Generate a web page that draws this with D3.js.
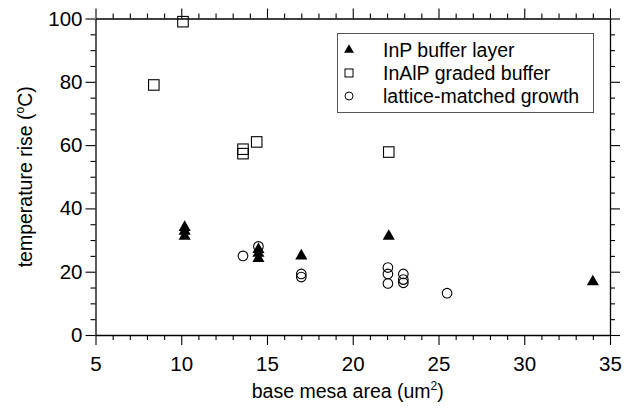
<!DOCTYPE html>
<html><head><meta charset="utf-8">
<script src="https://cdn.jsdelivr.net/npm/d3@7"></script>
<style>body{margin:0;background:#fff}svg{display:block}text{font-family:"Liberation Sans",Arial,Helvetica,sans-serif;fill:#000}</style>
</head><body><svg id="c" width="626" height="410"></svg>
<script>
const inpX = [10.2, 10.2, 10.2, 14.5, 14.5, 14.5, 17.0, 22.1, 34.0];
const inpY = [34, 32.8, 31.2, 27, 25.8, 24.2, 25, 31.2, 16.8];
const inalpX = [8.4, 10.1, 13.6, 13.6, 14.4, 22.1];
const inalpY = [79, 99, 58.7, 57.3, 61, 57.8];
const latX = [13.6, 14.5, 17.0, 17.0, 22.05, 22.05, 22.05, 22.95, 22.95, 22.95, 25.5];
const latY = [25, 28, 19.3, 18.3, 21.3, 19.3, 16.3, 19.3, 17.5, 16.5, 13.2];
const xTicks = [5, 10, 15, 20, 25, 30, 35];
const yTicks = [0, 20, 40, 60, 80, 100];
const legendLabels = ["InP buffer layer", "InAlP graded buffer", "lattice-matched growth"];

const svg = d3.select("#c");
const L = 95.5, R = 610, T = 18.5, B = 335;
const x = d3.scaleLinear().domain([5, 35]).range([L, R]);
const y = d3.scaleLinear().domain([0, 100]).range([B, T]);
const xMinor = d3.range(5, 36, 1).filter(v => v % 5 !== 0);
const yMinor = d3.range(0, 101, 5).filter(v => v % 20 !== 0);
const fs = 19.5;

function axis(gen, scale, ticks, minor, transform, labels, pad) {
  const g1 = svg.append("g").attr("transform", transform)
    .call(gen(scale).tickValues(ticks).tickSize(10).tickSizeOuter(0).tickPadding(pad)
      .tickFormat(labels ? d3.format("d") : ""));
  const g2 = svg.append("g").attr("transform", transform)
    .call(gen(scale).tickValues(minor).tickSize(5).tickSizeOuter(0).tickFormat(""));
  g2.select(".domain").remove();
  [g1, g2].forEach(g => {
    g.selectAll("line").attr("stroke", "#000").attr("stroke-width", 1.1);
    g.select(".domain").attr("stroke", "#000").attr("stroke-width", 1.3);
    g.selectAll("text").attr("font-size", 20.5).attr("font-family", '"Liberation Sans",Arial,sans-serif').attr("fill", "#000");
  });
}
axis(d3.axisBottom, x, xTicks, xMinor, `translate(0,${B})`, true, 11);
axis(d3.axisTop, x, xTicks, xMinor, `translate(0,${T})`, false, 3);
axis(d3.axisLeft, y, yTicks, yMinor, `translate(${L},0)`, true, 3);
axis(d3.axisRight, y, yTicks, yMinor, `translate(${R},0)`, false, 3);

// axis titles
const xt = svg.append("text").attr("x", (L + R) / 2 - 5).attr("y", 398).attr("text-anchor", "middle").attr("font-size", fs);
xt.append("tspan").text("base mesa area (um");
xt.append("tspan").attr("font-size", 12).attr("dy", -8).text("2");
xt.append("tspan").attr("dy", 8).text(")");

const yt = svg.append("text").attr("transform", `translate(32,${(T + B) / 2}) rotate(-90)`).attr("text-anchor", "middle").attr("font-size", fs);
yt.append("tspan").text("temperature rise (");
yt.append("tspan").attr("font-size", 12).attr("dy", -8).text("o");
yt.append("tspan").attr("dy", 8).text("C)");

// marks
const tri = d3.symbol().type(d3.symbolTriangle).size(64);
svg.append("g").selectAll("path").data(inpX.map((v, i) => [v, inpY[i]])).join("path")
  .attr("d", tri).attr("transform", d => `translate(${x(d[0])},${y(d[1])})`).attr("fill", "#000");
const sq = 10.5;
svg.append("g").selectAll("rect").data(inalpX.map((v, i) => [v, inalpY[i]])).join("rect")
  .attr("x", d => x(d[0]) - sq / 2).attr("y", d => y(d[1]) - sq / 2).attr("width", sq).attr("height", sq)
  .attr("fill", "none").attr("stroke", "#000").attr("stroke-width", 1.1);
svg.append("g").selectAll("circle").data(latX.map((v, i) => [v, latY[i]])).join("circle")
  .attr("cx", d => x(d[0])).attr("cy", d => y(d[1])).attr("r", 4.8)
  .attr("fill", "none").attr("stroke", "#000").attr("stroke-width", 1.1);

// legend
const lg = svg.append("g");
lg.append("rect").attr("x", 337.5).attr("y", 33.5).attr("width", 256).attr("height", 79)
  .attr("fill", "#fff").attr("stroke", "#555").attr("stroke-width", 1);
const rows = [50, 73, 96];
lg.append("path").attr("d", d3.symbol().type(d3.symbolTriangle).size(42)).attr("transform", `translate(349,${rows[0]})`).attr("fill", "#000");
lg.append("rect").attr("x", 345).attr("y", rows[1] - 4).attr("width", 8).attr("height", 8).attr("fill", "none").attr("stroke", "#000");
lg.append("circle").attr("cx", 349).attr("cy", rows[2]).attr("r", 4).attr("fill", "none").attr("stroke", "#000");
legendLabels.forEach((t, i) => {
  lg.append("text").attr("x", 383).attr("y", rows[i] + 7).attr("font-size", fs).text(t);
});
</script></body></html>
